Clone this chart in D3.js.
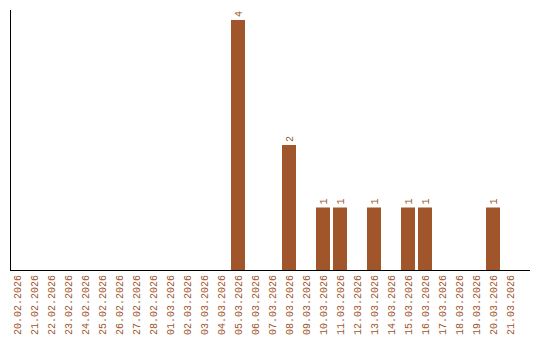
<!DOCTYPE html>
<html>
<head>
<meta charset="utf-8">
<script src="https://cdn.jsdelivr.net/npm/d3@7"></script>
<style>
  body { margin: 0; background: #fff; }
  svg text { font-family: "Liberation Mono", monospace; font-size: 10px; -webkit-font-smoothing: none; font-smooth: never; }
</style>
</head>
<body>
<svg id="here"></svg>
<script>
const dates = ["20.02.2026","21.02.2026","22.02.2026","23.02.2026","24.02.2026","25.02.2026",
  "26.02.2026","27.02.2026","28.02.2026","01.03.2026","02.03.2026","03.03.2026","04.03.2026",
  "05.03.2026","06.03.2026","07.03.2026","08.03.2026","09.03.2026","10.03.2026","11.03.2026",
  "12.03.2026","13.03.2026","14.03.2026","15.03.2026","16.03.2026","17.03.2026","18.03.2026",
  "19.03.2026","20.03.2026","21.03.2026"];
const counts = [0,0,0,0,0,0,0,0,0,0,0,0,0,4,0,0,2,0,1,1,0,1,0,1,1,0,0,0,1,0];

const width = 540, height = 340;
const color = "#a0552a";
const base = 270;

const svg = d3.select("#here").attr("width", width).attr("height", height);

const x = d3.scaleBand()
  .domain(dates)
  .range([10, 517])
  .paddingInner(3 / 17)
  .paddingOuter(0);

const y = d3.scaleLinear()
  .domain([0, 4])
  .range([base, 20]);

const data = dates.map((d, i) => ({date: d, value: counts[i]}));

// bars
svg.selectAll(".bar")
  .data(data.filter(d => d.value > 0))
  .enter()
  .append("rect")
  .attr("class", "bar")
  .attr("x", d => x(d.date))
  .attr("y", d => y(d.value))
  .attr("width", x.bandwidth())
  .attr("height", d => base - y(d.value))
  .attr("fill", color);

// value labels
svg.selectAll(".val")
  .data(data.filter(d => d.value > 0))
  .enter()
  .append("text")
  .attr("class", "val")
  .attr("transform", d => `translate(${x(d.date) + x.bandwidth() / 2},${y(d.value) - 3}) rotate(-90)`)
  .attr("dy", "0.35em")
  .attr("fill", color)
  .text(d => d.value);

// x axis labels
const xAxis = d3.axisBottom(x).tickSize(0).tickPadding(0);
const gx = svg.append("g")
  .attr("transform", `translate(0,${base})`)
  .call(xAxis);
gx.select(".domain").remove();
gx.selectAll("text")
  .attr("font-family", "Liberation Mono")
  .attr("font-size", 10.4)
  .attr("fill", color)
  .attr("text-anchor", "end")
  .attr("transform", "translate(0,5) rotate(-90)")
  .attr("x", 0)
  .attr("y", 0)
  .attr("dy", "0.35em");

// axis lines
svg.append("line")
  .attr("x1", 10).attr("x2", 530)
  .attr("y1", base + 0.5).attr("y2", base + 0.5)
  .attr("stroke", "#000");
svg.append("line")
  .attr("x1", 10.5).attr("x2", 10.5)
  .attr("y1", 10).attr("y2", base)
  .attr("stroke", "#000");
</script>
</body>
</html>
